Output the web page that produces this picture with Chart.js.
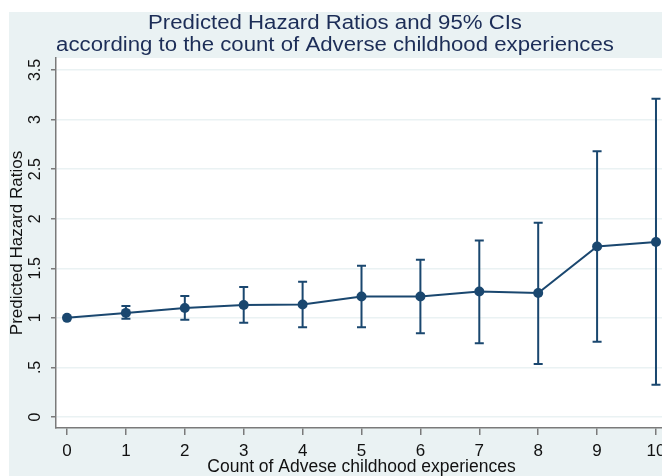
<!DOCTYPE html>
<html>
<head>
<meta charset="utf-8">
<script src="https://cdn.jsdelivr.net/npm/chart.js@4.4.0/dist/chart.umd.min.js"></script>
<style>
  html, body { margin: 0; padding: 0; background: #fff; overflow: hidden; width: 662px; height: 476px; }
  #wrap { position: absolute; left: 9px; top: 12px; width: 680px; height: 464px; }
</style>
</head>
<body>
<div id="wrap"><canvas id="chart"></canvas></div>
<script>
// Data
const aceCounts = [0, 1, 2, 3, 4, 5, 6, 7, 8, 9, 10];
const hazardRatios = [1.00, 1.05, 1.10, 1.13, 1.135, 1.215, 1.215, 1.265, 1.25, 1.72, 1.765];
const ciLower = [null, 0.99, 0.98, 0.95, 0.905, 0.905, 0.845, 0.745, 0.535, 0.76, 0.326];
const ciUpper = [null, 1.12, 1.22, 1.31, 1.365, 1.525, 1.585, 1.78, 1.96, 2.68, 3.21];

const xTicks = [0, 1, 2, 3, 4, 5, 6, 7, 8, 9, 10];
const yTicks = [0, 0.5, 1, 1.5, 2, 2.5, 3, 3.5];
const yTickLabels = ['0', '.5', '1', '1.5', '2', '2.5', '3', '3.5'];

const titleLines = [
  'Predicted Hazard Ratios and 95% CIs',
  'according to the count of Adverse childhood experiences'
];

const NAVY = '#1a476f';
const REGION = '#eaf2f3';
const AXIS = '#7a7a7a';
const FONT = '"Liberation Sans", Arial, sans-serif';

// Stata-like background: bluish graph region, white plot region
const backgroundPlugin = {
  id: 'background',
  beforeDraw(chart) {
    const { ctx, chartArea: a } = chart;
    ctx.save();
    ctx.fillStyle = REGION;
    ctx.fillRect(0, 0, chart.width, chart.height);
    ctx.fillStyle = '#fff';
    ctx.fillRect(a.left, a.top, a.right - a.left, a.bottom - a.top);
    ctx.restore();
  }
};

// Confidence interval caps (rcap)
const errorBarPlugin = {
  id: 'errorBars',
  beforeDatasetsDraw(chart) {
    const { ctx, scales: { x, y } } = chart;
    ctx.save();
    ctx.strokeStyle = NAVY;
    ctx.lineWidth = 2;
    aceCounts.forEach((c, i) => {
      if (ciLower[i] == null) return;
      const px = x.getPixelForValue(c);
      const lo = y.getPixelForValue(ciLower[i]);
      const hi = y.getPixelForValue(ciUpper[i]);
      ctx.beginPath();
      ctx.moveTo(px, lo); ctx.lineTo(px, hi);
      ctx.moveTo(px - 4.5, lo); ctx.lineTo(px + 4.5, lo);
      ctx.moveTo(px - 4.5, hi); ctx.lineTo(px + 4.5, hi);
      ctx.stroke();
    });
    ctx.restore();
  }
};

// Two-line title centred over the graph region (text a bit wide, like the original)
const titlePlugin = {
  id: 'stataTitle',
  afterDraw(chart) {
    const { ctx } = chart;
    ctx.save();
    ctx.fillStyle = '#1c2d57';
    ctx.font = '20px ' + FONT;
    ctx.textAlign = 'center';
    ctx.textBaseline = 'alphabetic';
    ctx.translate(326, 0);
    ctx.scale(1.11, 1);
    ctx.fillText(titleLines[0], 0, 17);
    ctx.fillText(titleLines[1], 0, 39);
    ctx.restore();
  }
};

new Chart(document.getElementById('chart'), {
  type: 'line',
  data: {
    datasets: [{
      data: aceCounts.map((c, i) => ({ x: c, y: hazardRatios[i] })),
      borderColor: NAVY,
      borderWidth: 2,
      backgroundColor: NAVY,
      pointRadius: 5,
      pointBorderWidth: 0,
      pointBackgroundColor: NAVY,
      tension: 0,
      clip: false
    }]
  },
  options: {
    responsive: true,
    maintainAspectRatio: false,
    animation: false,
    devicePixelRatio: 1,
    layout: { padding: { top: 46, right: 22, left: 0, bottom: 0 } },
    plugins: {
      legend: { display: false },
      tooltip: { enabled: false },
      title: { display: false }
    },
    scales: {
      x: {
        type: 'linear',
        min: -0.187,
        max: 10.187,
        afterBuildTicks: s => { s.ticks = xTicks.map(v => ({ value: v })); },
        afterFit: s => { s.height = 48; },
        grid: { drawOnChartArea: false, drawTicks: true, tickLength: 7, tickColor: AXIS, lineWidth: 1.5 },
        border: { display: true, color: AXIS, width: 1.5 },
        ticks: { color: '#111', font: { family: FONT, size: 17 }, padding: 6, maxRotation: 0, autoSkip: false },
        title: {
          display: true,
          text: 'Count of Advese childhood experiences',
          color: '#111',
          font: { family: FONT, size: 17.5, lineHeight: 1.0 },
          padding: { top: 0, bottom: 0 }
        }
      },
      y: {
        min: -0.111,
        max: 3.621,
        afterBuildTicks: s => { s.ticks = yTicks.map(v => ({ value: v })); },
        afterFit: s => { s.width = 47; },
        grid: { color: REGION, lineWidth: 1.5, tickColor: AXIS, tickLength: 5, drawTicks: true },
        border: { display: true, color: AXIS, width: 1.5 },
        ticks: {
          color: '#111',
          font: { family: FONT, size: 16 },
          minRotation: 90,
          maxRotation: 90,
          crossAlign: 'center',
          padding: 4,
          callback: v => yTickLabels[yTicks.indexOf(v)]
        },
        title: {
          display: true,
          text: 'Predicted Hazard Ratios',
          color: '#111',
          font: { family: FONT, size: 17, lineHeight: 1.0 },
          padding: { top: 0, bottom: 0 }
        }
      }
    }
  },
  plugins: [backgroundPlugin, errorBarPlugin, titlePlugin]
});
</script>
</body>
</html>
